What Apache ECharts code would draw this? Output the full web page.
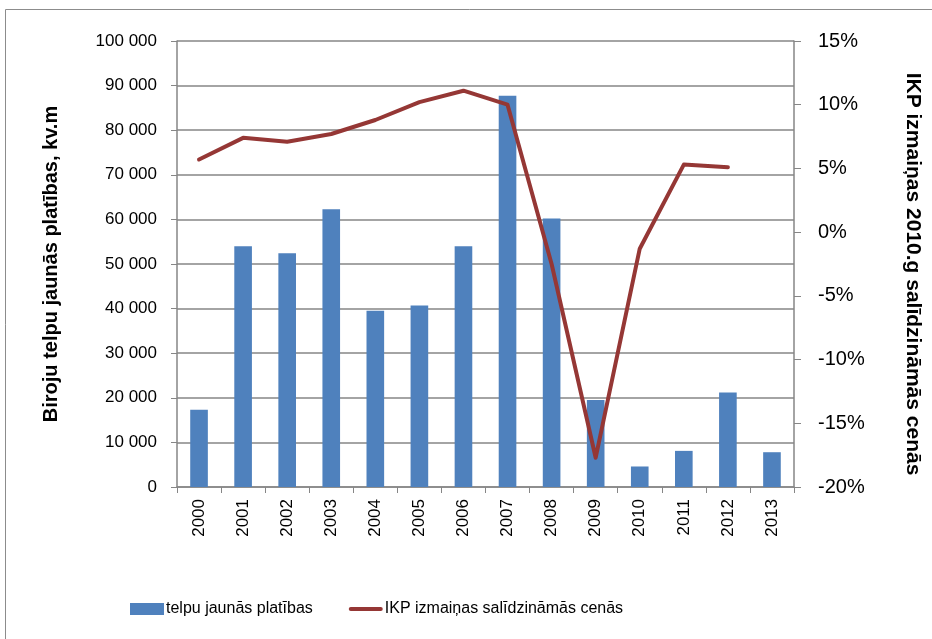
<!DOCTYPE html>
<html>
<head>
<meta charset="utf-8">
<script src="https://cdn.jsdelivr.net/npm/echarts@6/dist/echarts.min.js"></script>
<style>
html, body { margin: 0; padding: 0; background: #fff; }
#chart { width: 932px; height: 639px; }
</style>
</head>
<body>
<div id="chart"></div>
<script>
var years = ['2000', '2001', '2002', '2003', '2004', '2005', '2006', '2007', '2008', '2009', '2010', '2011', '2012', '2013'];
var newSpace = [17300, 54000, 52400, 62300, 39500, 40700, 54000, 87700, 60200, 19500, 4600, 8100, 21200, 7800];
var gdpChange = [5.7, 7.4, 7.1, 7.7, 8.8, 10.2, 11.1, 10.0, -2.5, -17.7, -1.3, 5.3, 5.1, null];

var chartDom = document.getElementById('chart');
var myChart = echarts.init(chartDom);
var font = 'Liberation Sans';
var option = {
    animation: false,
    textStyle: { fontFamily: font },
    graphic: [{
        type: 'rect',
        shape: { x: 5.5, y: 9.5, width: 940, height: 640 },
        style: { fill: 'none', stroke: '#8c8c8c', lineWidth: 1 }
    }],
    grid: { left: 177, right: 138, top: 41, height: 446 },
    legend: {
        top: 596,
        left: 125,
        itemGap: 36,
        itemWidth: 34,
        itemHeight: 12,
        textStyle: { fontSize: 16, color: '#000', fontFamily: font, padding: [0, 0, 0, -3] },
        data: [
            { name: 'telpu jaunās platības', icon: 'rect' },
            { name: 'IKP izmaiņas salīdzināmās cenās', icon: 'path://M2,0 H32 A2,2 0 0 1 32,4 H2 A2,2 0 0 1 2,0 Z' }
        ]
    },
    xAxis: {
        type: 'category',
        data: years,
        axisLine: { lineStyle: { color: '#868686', width: 1.5 } },
        axisTick: { show: true, length: 6, lineStyle: { color: '#868686' } },
        axisLabel: { rotate: 90, color: '#000', fontSize: 17, margin: 12 }
    },
    yAxis: [{
        type: 'value',
        min: 0,
        max: 100000,
        interval: 10000,
        name: 'Biroju telpu jaunās platības, kv.m',
        nameLocation: 'middle',
        nameGap: 116,
        nameTextStyle: { fontSize: 20, fontWeight: 'bold', color: '#000' },
        axisLine: { show: true, lineStyle: { color: '#868686', width: 1.5 } },
        axisTick: { show: true, length: 6, lineStyle: { color: '#868686' } },
        splitLine: { lineStyle: { color: '#868686', width: 1.5 } },
        axisLabel: {
            color: '#000',
            fontSize: 17,
            margin: 20,
            formatter: function (v) {
                return String(v).replace(/\B(?=(\d{3})+(?!\d))/g, ' ');
            }
        }
    }, {
        type: 'value',
        min: -20,
        max: 15,
        interval: 5,
        position: 'right',
        name: 'IKP izmaiņas 2010.g salīdzināmās cenās',
        nameLocation: 'middle',
        nameGap: 108,
        nameRotate: -90,
        nameTextStyle: { fontSize: 21, fontWeight: 'bold', color: '#000', padding: [0, 0, 0, 20] },
        axisLine: { show: true, lineStyle: { color: '#868686', width: 1.5 } },
        axisTick: { show: true, length: 7, lineStyle: { color: '#868686' } },
        splitLine: { show: false },
        axisLabel: {
            color: '#000',
            fontSize: 20,
            margin: 24,
            formatter: function (v) { return v + '%'; }
        }
    }],
    series: [{
        name: 'telpu jaunās platības',
        type: 'bar',
        data: newSpace,
        barWidth: '40%',
        itemStyle: { color: '#4F81BD' }
    }, {
        name: 'IKP izmaiņas salīdzināmās cenās',
        type: 'line',
        yAxisIndex: 1,
        data: gdpChange,
        showSymbol: false,
        symbol: 'none',
        lineStyle: { color: '#953735', width: 4, cap: 'round', join: 'round' },
        itemStyle: { color: '#953735' }
    }]
};
option && myChart.setOption(option);
</script>
</body>
</html>
